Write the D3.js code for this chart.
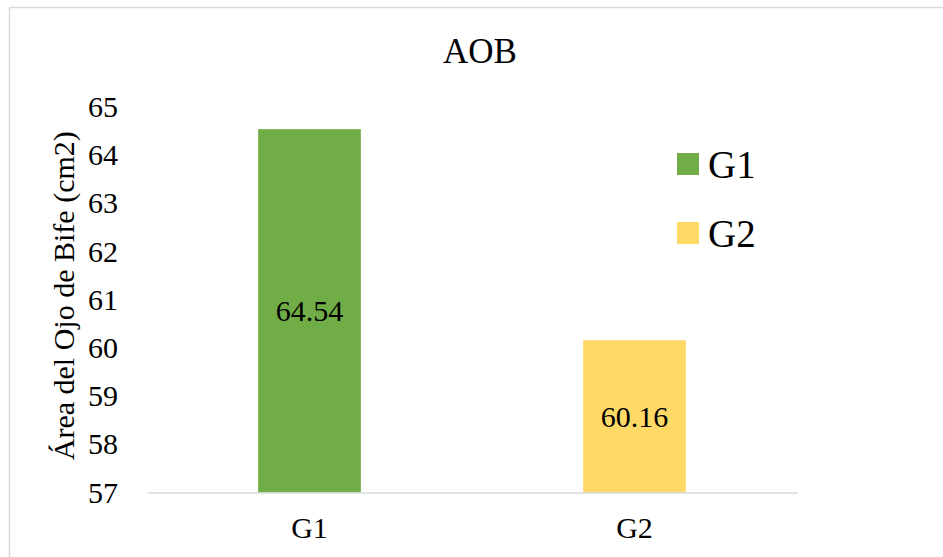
<!DOCTYPE html>
<html>
<head>
<meta charset="utf-8">
<script src="https://cdn.jsdelivr.net/npm/d3@7"></script>
<style>
  html, body { margin: 0; padding: 0; background: #fff; }
  svg, svg text { font-family: 'Liberation Serif', 'Times New Roman', Times, serif; }
</style>
</head>
<body>
<svg id="chart" width="943" height="557"></svg>
<script>
// Chart data
const categories = ["G1", "G2"];
const values = [64.54, 60.16];
const colors = ["#70AD47", "#FFD966"];
const yTicks = [57, 58, 59, 60, 61, 62, 63, 64, 65];
const title = "AOB";
const yLabel = "Área del Ojo de Bife (cm2)";

const FONT = "'Liberation Serif', 'Times New Roman', Times, serif";
const svg = d3.select("#chart");
const W = 943, H = 557;
const margin = { left: 147, right: 146, top: 107, bottom: 64.5 };

// Outer frame of the chart area
svg.append("rect")
  .attr("x", 9.5).attr("y", 7.5)
  .attr("width", 960).attr("height", 600)
  .attr("fill", "#fff")
  .attr("stroke", "#d9d9d9").attr("stroke-width", 1.5);

const x = d3.scaleBand()
  .domain(categories)
  .range([margin.left, W - margin.right])
  .paddingInner(0.684)
  .paddingOuter(0.342);

const y = d3.scaleLinear()
  .domain([57, 65])
  .range([H - margin.bottom, margin.top]);

// Title
svg.append("text")
  .attr("x", 480).attr("y", 63)
  .attr("text-anchor", "middle")
  .style("font-family", FONT)
  .style("font-size", "35px")
  .attr("fill", "#000")
  .text(title);

// Y axis (labels only)
const yAxis = d3.axisLeft(y).tickValues(yTicks).tickSize(0).tickPadding(29);
const gy = svg.append("g")
  .attr("transform", `translate(${margin.left},0)`)
  .call(yAxis);
gy.select(".domain").remove();
gy.selectAll("text")
  .style("font-family", FONT)
  .style("font-size", "30px")
  .attr("fill", "#000");

// Y axis title
svg.append("text")
  .attr("transform", `translate(74,${(y(57) + y(65)) / 2 - 4}) rotate(-90)`)
  .attr("text-anchor", "middle")
  .style("font-family", FONT)
  .style("font-size", "30px")
  .attr("fill", "#000")
  .text(yLabel);

// Bars
svg.selectAll("rect.bar")
  .data(categories)
  .enter().append("rect")
  .attr("class", "bar")
  .attr("x", d => x(d))
  .attr("width", x.bandwidth())
  .attr("y", (d, i) => y(values[i]))
  .attr("height", (d, i) => y(57) - y(values[i]))
  .attr("fill", (d, i) => colors[i]);

// X axis
const xAxis = d3.axisBottom(x).tickSize(0).tickPadding(24);
const gx = svg.append("g")
  .attr("transform", `translate(0,${y(57)})`)
  .call(xAxis);
gx.select(".domain")
  .attr("stroke", "#d9d9d9")
  .attr("stroke-width", 1.5);
gx.selectAll("text")
  .style("font-family", FONT)
  .style("font-size", "30px")
  .attr("fill", "#000");

// Value labels in the middle of each bar
svg.selectAll("text.value")
  .data(categories)
  .enter().append("text")
  .attr("class", "value")
  .attr("x", d => x(d) + x.bandwidth() / 2)
  .attr("y", (d, i) => (y(values[i]) + y(57)) / 2)
  .attr("dy", "0.35em")
  .attr("text-anchor", "middle")
  .style("font-family", FONT)
  .style("font-size", "30px")
  .attr("fill", "#000")
  .text((d, i) => values[i].toFixed(2));

// Legend
const legend = svg.append("g");
categories.forEach((c, i) => {
  const ly = 153 + i * 69;
  legend.append("rect")
    .attr("x", 677).attr("y", ly)
    .attr("width", 22).attr("height", 22)
    .attr("fill", colors[i]);
  legend.append("text")
    .attr("x", 708).attr("y", ly + 24.5)
    .style("font-family", FONT)
    .style("font-size", "39px")
    .attr("fill", "#000")
    .text(c);
});
</script>
</body>
</html>
